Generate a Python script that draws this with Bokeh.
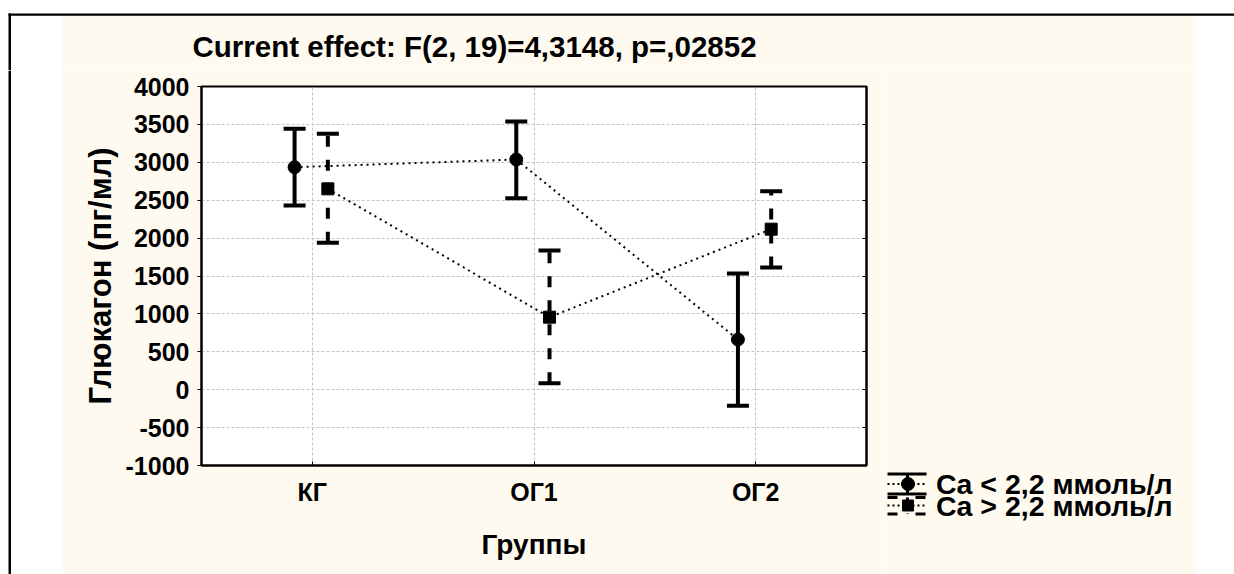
from bokeh.plotting import figure
from bokeh.layouts import column, row
from bokeh.models import (FactorRange, Range1d, FixedTicker, LinearAxis,
                          Whisker, TeeHead, ColumnDataSource)
from bokeh.core.properties import value
from bokeh.transform import dodge
from bokeh.embed import file_html
from bokeh.resources import INLINE

# ---------------- data ----------------
groups = ["КГ", "ОГ1", "ОГ2"]
low_mean = [2935, 3037, 662]
low_upper = [3442, 3538, 1533]
low_lower = [2430, 2527, -213]
high_mean = [2650, 957, 2118]
high_upper = [3376, 1836, 2619]
high_lower = [1938, 86, 1612]
y_ticks = [-1000, -500, 0, 500, 1000, 1500, 2000, 2500, 3000, 3500, 4000]
series_labels = ["Ca < 2,2 ммоль/л", "Ca > 2,2 ммоль/л"]
title_text = "Current effect: F(2, 19)=4,3148, p=,02852"
x_title = "Группы"
y_title = "Глюкагон (пг/мл)"

# ---------------- layout constants (page px) ----------------
PAGE_W, PAGE_H = 1234, 574
TOP_H = 70                      # height of the title band
LEFT_W = 62                     # white strip left of the cream panel
MAIN_R = 880                    # right edge of the main figure
CREAM_R = 1195                  # right edge of the cream panel
FL, FR, FT, FB = 201, 866, 86, 465     # plot frame edges on the page
FONT = "Liberation Sans"
CREAM = "#FFFAF0"
BODY_H = PAGE_H - TOP_H


def deco_figure(x0, x1, y0, y1):
    """A figure whose frame fills the canvas, with page-pixel coordinates."""
    f = figure(width=x1 - x0, height=y1 - y0, output_backend="svg", toolbar_location=None,
               x_range=Range1d(x0, x1), y_range=Range1d(y1, y0),
               x_axis_location=None, y_axis_location=None, title=None,
               min_border=0, min_border_left=0, min_border_right=0,
               min_border_top=0, min_border_bottom=0, frame_align=False)
    f.grid.visible = False
    f.outline_line_color = None
    f.background_fill_color = "white"
    f.border_fill_color = "white"
    return f


# ---------------- title band ----------------
top = deco_figure(0, PAGE_W, 0, TOP_H)
top.quad(left=LEFT_W, right=CREAM_R, top=15, bottom=TOP_H, fill_color=CREAM, line_color=None)
top.quad(left=8, right=PAGE_W, top=13, bottom=15.3, fill_color="black", line_color=None)
top.quad(left=8, right=10.5, top=13, bottom=TOP_H, fill_color="black", line_color=None)
top.text(x=[192], y=[46], text=[title_text], text_align="left", text_baseline="middle",
         text_font=value(FONT), text_font_style="bold", text_font_size="29.5px",
         text_color="black")

# ---------------- left strip ----------------
left = deco_figure(0, LEFT_W, TOP_H, PAGE_H)
left.quad(left=8, right=10.5, top=TOP_H, bottom=PAGE_H, fill_color="black", line_color=None)

# ---------------- main plot ----------------
p = figure(width=MAIN_R - LEFT_W, height=BODY_H, output_backend="svg", toolbar_location=None,
           title=None, frame_align=False,
           x_range=FactorRange(factors=groups, range_padding=0),
           y_range=Range1d(y_ticks[0], y_ticks[-1]),
           min_border_left=FL - LEFT_W, min_border_right=MAIN_R - FR,
           min_border_top=FT - TOP_H, min_border_bottom=PAGE_H - FB)
p.border_fill_color = CREAM
p.background_fill_color = "white"
p.outline_line_color = "black"
p.outline_line_width = 2

xa = p.xaxis[0]
xa.major_tick_in = 4
xa.major_tick_out = 0
xa.axis_line_width = 2
xa.major_label_text_font = FONT
xa.major_label_text_font_style = "bold"
xa.major_label_text_font_size = "25px"
xa.major_label_text_color = "black"
xa.major_label_standoff = 12
xa.axis_label = x_title
xa.axis_label_text_font = FONT
xa.axis_label_text_font_style = "bold"
xa.axis_label_text_font_size = "28px"
xa.axis_label_text_color = "black"
xa.axis_label_standoff = 20

ya = p.yaxis[0]
ya.ticker = FixedTicker(ticks=y_ticks, minor_ticks=[])
ya.major_label_overrides = {t: str(t) for t in y_ticks}   # plain hyphen minus
ya.major_tick_in = 0
ya.major_tick_out = 4
ya.minor_tick_in = 0
ya.minor_tick_out = 0
ya.axis_line_width = 2
ya.major_label_text_font = FONT
ya.major_label_text_font_style = "bold"
ya.major_label_text_font_size = "25px"
ya.major_label_text_color = "black"
ya.major_label_standoff = 8
ya.axis_label = y_title
ya.axis_label_text_font = FONT
ya.axis_label_text_font_style = "bold"
ya.axis_label_text_font_size = "31px"
ya.axis_label_text_color = "black"
ya.axis_label_standoff = 5

# right axis: inward ticks only (no labels)
right_axis = LinearAxis(ticker=FixedTicker(ticks=y_ticks, minor_ticks=[]),
                        major_tick_in=4, major_tick_out=0, minor_tick_in=0, minor_tick_out=0,
                        axis_line_width=2, major_label_standoff=0,
                        major_label_overrides={t: "" for t in y_ticks})
p.add_layout(right_axis, "right")

for g in (p.xgrid[0], p.ygrid[0]):
    g.grid_line_color = "#c4c4c4"
    g.grid_line_dash = "3 2"
    g.grid_line_width = 1
p.ygrid[0].ticker = FixedTicker(ticks=y_ticks)

src_low = ColumnDataSource(dict(group=groups, mean=low_mean, upper=low_upper, lower=low_lower))
src_high = ColumnDataSource(dict(group=groups, mean=high_mean, upper=high_upper, lower=high_lower))
off_low, off_high = -0.08, 0.07
x_low = dodge("group", off_low, range=p.x_range)
x_high = dodge("group", off_high, range=p.x_range)

p.line(x=x_low, y="mean", source=src_low, line_color="black", line_width=2, line_dash="2 4")
p.line(x=x_high, y="mean", source=src_high, line_color="black", line_width=2, line_dash="2 4")

p.add_layout(Whisker(source=src_low, base=x_low, upper="upper", lower="lower",
                     line_color="black", line_width=4,
                     upper_head=TeeHead(size=22, line_width=4, line_color="black"),
                     lower_head=TeeHead(size=22, line_width=4, line_color="black")))
p.add_layout(Whisker(source=src_high, base=x_high, upper="upper", lower="lower",
                     line_color="black", line_width=4, line_dash="11 13",
                     upper_head=TeeHead(size=22, line_width=4, line_color="black"),
                     lower_head=TeeHead(size=22, line_width=4, line_color="black")))

p.scatter(x=x_low, y="mean", source=src_low, marker="circle", size=13,
          fill_color="black", line_color="black")
p.scatter(x=x_high, y="mean", source=src_high, marker="square", size=12,
          fill_color="black", line_color="black")

# ---------------- legend panel ----------------
leg = deco_figure(MAIN_R, PAGE_W, TOP_H, PAGE_H)
leg.quad(left=MAIN_R, right=CREAM_R, top=TOP_H, bottom=PAGE_H, fill_color=CREAM, line_color=None)

ix0, ix1, cx = 887, 926, 907
rows = [dict(cy=483.5, t=473.5, b=493.5, cap_dash="solid", shaft_dash="solid",
             marker="circle", size=13, text_y=483.7),
        dict(cy=505, t=497, b=513.5, cap_dash="10 18", shaft_dash="4 4",
             marker="square", size=11, text_y=505.3)]
for r, lab in zip(rows, series_labels):
    leg.segment(x0=[ix0], y0=[r["cy"]], x1=[ix1], y1=[r["cy"]], line_color="black",
                line_width=2, line_dash="2 3")
    leg.segment(x0=[ix0, ix0], y0=[r["t"], r["b"]], x1=[ix1, ix1], y1=[r["t"], r["b"]],
                line_color="black", line_width=3, line_dash=r["cap_dash"])
    leg.segment(x0=[cx], y0=[r["t"]], x1=[cx], y1=[r["b"]], line_color="black",
                line_width=3, line_dash=r["shaft_dash"])
    leg.scatter(x=[cx + 0.5], y=[r["cy"]], marker=r["marker"], size=r["size"],
                fill_color="black", line_color="black")
    leg.text(x=[935.5], y=[r["text_y"]], text=[lab], text_align="left", text_baseline="middle",
             text_font=value(FONT), text_font_style="bold", text_font_size="28.5px",
             text_color="black")

layout = column(top, row(left, p, leg))
open("out.html", "w").write(file_html(layout, INLINE))
